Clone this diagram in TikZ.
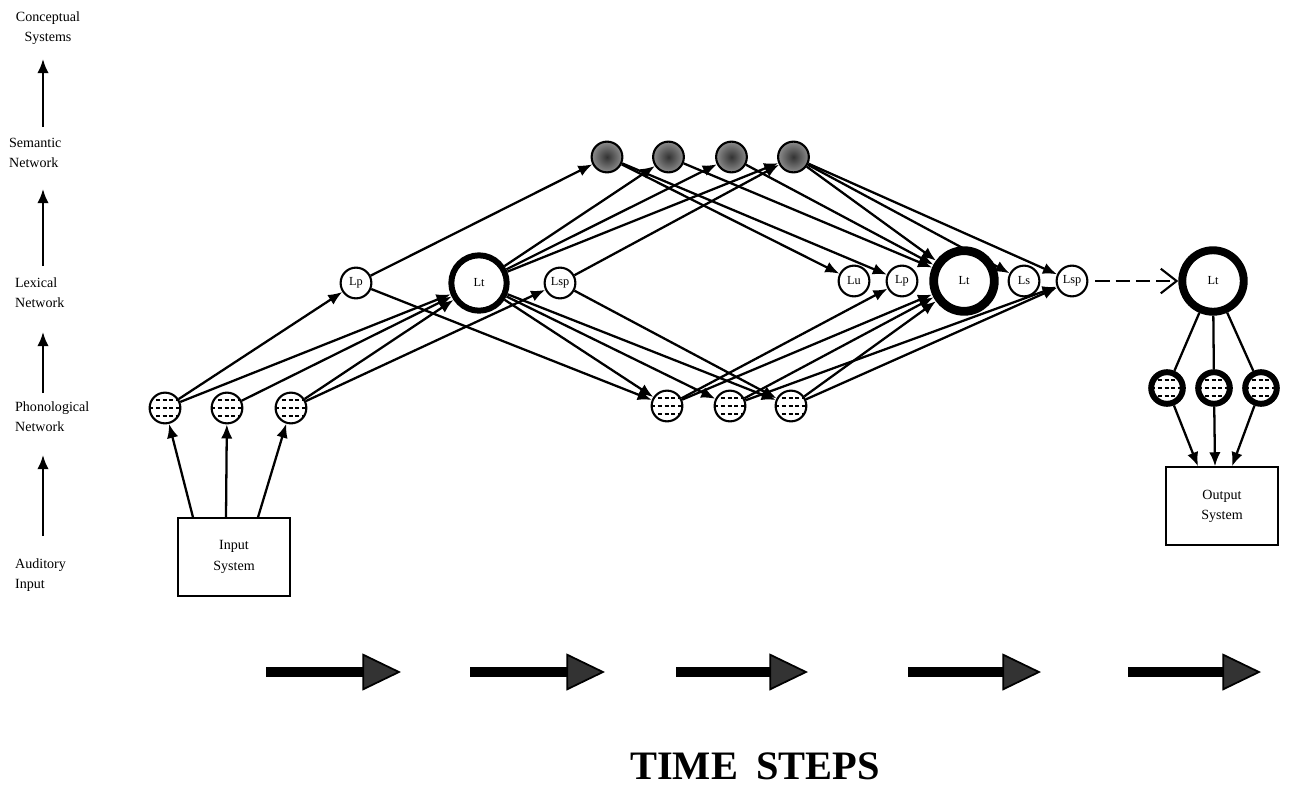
\documentclass[tikz,border=0pt]{standalone}
\usepackage{fontspec}
\setmainfont{Liberation Serif}
\usetikzlibrary{positioning,arrows.meta,calc}

\tikzset{dashfill/.style={path picture={
      \foreach \dy in {-4.4pt,0pt,4.4pt}
        \draw[line width=1.2pt, dash pattern=on 2.3pt off 1.5pt]
          ([shift={(-9pt,\dy)}]path picture bounding box.center) -- ++(18pt,0pt);}}}

\begin{document}
\begin{tikzpicture}[x=0.02cm, y=-0.02cm,
    every node/.style={on grid},
    lbl/.style={anchor=west, align=left, inner sep=0pt, font=\fontsize{8}{11.5}\selectfont},
    phon/.style={circle, draw, fill=white, line width=1.2pt, minimum size=17.5pt, inner sep=0pt, dashfill},
    phonOut/.style={phon, line width=3.4pt, minimum size=18pt},
    sem/.style={circle, draw, line width=1.2pt, minimum size=17.5pt, inner sep=0pt,
                shade, shading=radial, inner color=black!80, outer color=black!45},
    lex/.style={circle, draw, fill=white, line width=1.2pt, minimum size=17.5pt, inner sep=0pt,
                font=\fontsize{7}{8}\selectfont},
    lexT/.style={lex, line width=3.4pt, minimum size=31.5pt},
    sysbox/.style={draw, line width=1.2pt, minimum width=64pt, minimum height=44pt, align=center,
                   font=\fontsize{8}{11.5}\selectfont},
    timearrow/.style={line width=5.6pt, -{Triangle[length=22pt, width=21pt, line width=1pt, fill=black!80]}},
    line width=1.3pt,
    >={Latex[length=8pt,width=6.5pt]}]
  \useasboundingbox (0,0) rectangle (1290,791);

  % levels on the left
  \node[lbl, anchor=center, align=center] (cs) at (48,28) {Conceptual\\Systems};
  \node[lbl] (sn) at (8,153) {Semantic\\Network};
  \node[lbl] (ln) at (14,293) {Lexical\\Network};
  \node[lbl] (pn) at (14,417) {Phonological\\Network};
  \node[lbl] (ai) at (14,575) {Auditory\\Input};
  \foreach \t/\h [count=\i] in {536/455, 393/332, 266/189, 127/59}{
    \coordinate (up\i a) at (43,\t);
    \coordinate (up\i b) at (43,\h);
    \draw[->] (up\i a) -- (up\i b);
  }

  % input side
  \node[sysbox] (in) at (234,557) {Input\\System};
  \node[phon] (p1) at (165,408) {};
  \node[phon, right=1.24cm of p1] (p2) {};
  \node[phon, right=1.28cm of p2] (p3) {};

  \node[lex] (lp1) at (356,283) {Lp};
  \node[lexT] (lt1) at (479,283) {Lt};
  \node[lex] (lsp1) at (560,283) {Lsp};

  \node[sem] (s1) at (607,157) {};
  \node[sem, right=1.23cm of s1] (s2) {};
  \node[sem, right=1.26cm of s2] (s3) {};
  \node[sem, right=1.24cm of s3] (s4) {};

  \node[phon] (q1) at (667,406) {};
  \node[phon, right=1.26cm of q1] (q2) {};
  \node[phon, right=1.22cm of q2] (q3) {};

  \node[lex] (lu) at (854,281) {Lu};
  \node[lex, right=0.96cm of lu] (lp2) {Lp};
  \node[lex, line width=5pt, minimum size=34.5pt] (lt2) at (964,281) {Lt};
  \node[lex] (ls) at (1024,281) {Ls};
  \node[lex, right=0.96cm of ls] (lsp2) {Lsp};

  % output side
  \node[lex, line width=4.5pt, minimum size=35pt] (lt3) at (1213,281) {Lt};
  \node[phonOut] (o1) at (1167,388) {};
  \node[phonOut, right=0.94cm of o1] (o2) {};
  \node[phonOut, right=0.94cm of o2] (o3) {};
  \node[sysbox] (out) at (1222,506) {Output\\System};

  \draw[->] ($(in.north)+(-41,0)$) -- (p1);
  \draw[->] ($(in.north)+(-8,0)$) -- (p2);
  \draw[->] ($(in.north)+(24,0)$) -- (p3);

  \draw[->] (p1) -- (lp1);
  \draw[->] (p1) -- (lt1);
  \draw[->] (p2) -- (lt1);
  \draw[->] (p3) -- (lt1);
  \draw[->] (p3) -- (lsp1);

  \draw[->] (lp1) -- (s1);
  \draw[->] (lt1) -- (s2);
  \draw[->] (lt1) -- (s3);
  \draw[->] (lt1) -- (s4);
  \draw[->] (lsp1) -- (s4);

  \draw[->] (lp1) -- (q1);
  \draw[->] (lt1) -- (q1);
  \draw[->] (lt1) -- (q2);
  \draw[->] (lt1) -- (q3);
  \draw[->] (lsp1) -- (q3);

  \draw[->] (s1) -- (lu);
  \draw[->] (s1) -- (lp2);
  \draw[->] (s2) -- (lt2);
  \draw[->] (s3) -- (lt2);
  \draw[->] (s4) -- (lt2);
  \draw[->] (s4) -- (ls);
  \draw[->] (s4) -- (lsp2);

  \draw[->] (q1) -- (lp2);
  \draw[->] (q1) -- (lt2);
  \draw[->] (q2) -- (lt2);
  \draw[->] (q2) -- (lsp2);
  \draw[->] (q3) -- (lt2);
  \draw[->] (q3) -- (lsp2);

  \draw[dash pattern=on 8pt off 3.5pt, shorten <=4pt,
        -{Straight Barb[length=9pt,width=14pt,line width=1.2pt]}] (lsp2) -- (lt3);

  \draw (lt3) -- (o1);
  \draw (lt3) -- (o2);
  \draw (lt3) -- (o3);
  \draw[->] (o1) -- ($(out.north)+(-24,0)$);
  \draw[->] (o2) -- ($(out.north)+(-7,0)$);
  \draw[->] (o3) -- ($(out.north)+(10,0)$);

  % time steps
  \foreach \xa/\xb [count=\i] in {266/401, 470/605, 676/808, 908/1041, 1128/1261}{
    \coordinate (ts\i a) at (\xa,672);
    \coordinate (ts\i b) at (\xb,672);
    \draw[timearrow] (ts\i a) -- (ts\i b);
  }
  \node[inner sep=0pt, font=\fontsize{23}{27}\bfseries\selectfont] (tsl) at (755,766) {TIME\hspace{0.45em}STEPS};
\end{tikzpicture}
\end{document}
